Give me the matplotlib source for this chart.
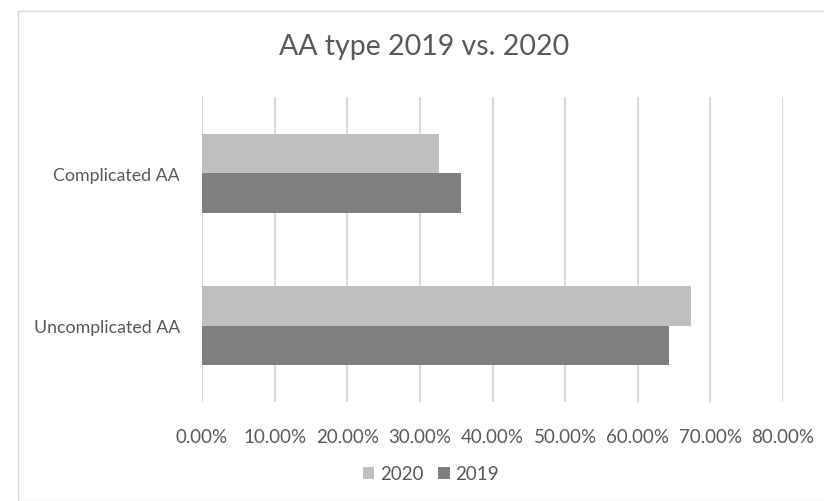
import matplotlib
matplotlib.use('Agg')
import matplotlib.pyplot as plt
from matplotlib.patches import Rectangle
from matplotlib.ticker import FuncFormatter
import numpy as np

categories = ['Uncomplicated AA', 'Complicated AA']
vals_2020 = [67.3, 32.7]
vals_2019 = [64.3, 35.7]
xticks = [0, 10, 20, 30, 40, 50, 60, 70, 80]

plt.rcParams['font.family'] = ['Lato', 'DejaVu Sans']
txt = '#595959'

fig = plt.figure(figsize=(8.24, 5.02), dpi=100)
fig.patches.append(Rectangle((18 / 824, 0), 1, 1 - 12 / 502, transform=fig.transFigure,
                             fill=False, edgecolor='#D9D9D9', linewidth=1))
ax = fig.add_axes([202 / 824, 1 - 403 / 502, 581 / 824, 305 / 502])

y = np.arange(len(categories))
h = 0.26
ax.barh(y + h / 2, vals_2020, height=h, color='#BFBFBF', label='2020')
ax.barh(y - h / 2, vals_2019, height=h, color='#7F7F7F', label='2019')

ax.set_xlim(0, 80)
ax.set_ylim(-0.5, 1.5)
ax.set_xticks(xticks)
ax.xaxis.set_major_formatter(FuncFormatter(lambda v, p: '%.2f%%' % v))
ax.set_yticks(y)
ax.set_yticklabels(categories)
ax.grid(axis='x', color='#D9D9D9', linewidth=1.5)
ax.set_axisbelow(True)
for s in ax.spines.values():
    s.set_visible(False)
ax.tick_params(axis='y', length=0, labelsize=12.8, colors=txt, pad=16)
ax.tick_params(axis='x', length=0, labelsize=13.5, colors=txt, pad=19)

fig.text(0.5 + 12 / 824, 1 - 47 / 502, 'AA type 2019 vs. 2020', ha='center', va='center',
         fontsize=20.5, color=txt)
fig.legend(loc='center', bbox_to_anchor=(431 / 824, 1 - 475 / 502), ncol=2, frameon=False,
           fontsize=13.5, labelcolor=txt, handlelength=0.6, handleheight=0.6,
           handletextpad=0.3, columnspacing=0.8)

fig.savefig('out.png', dpi=100)
